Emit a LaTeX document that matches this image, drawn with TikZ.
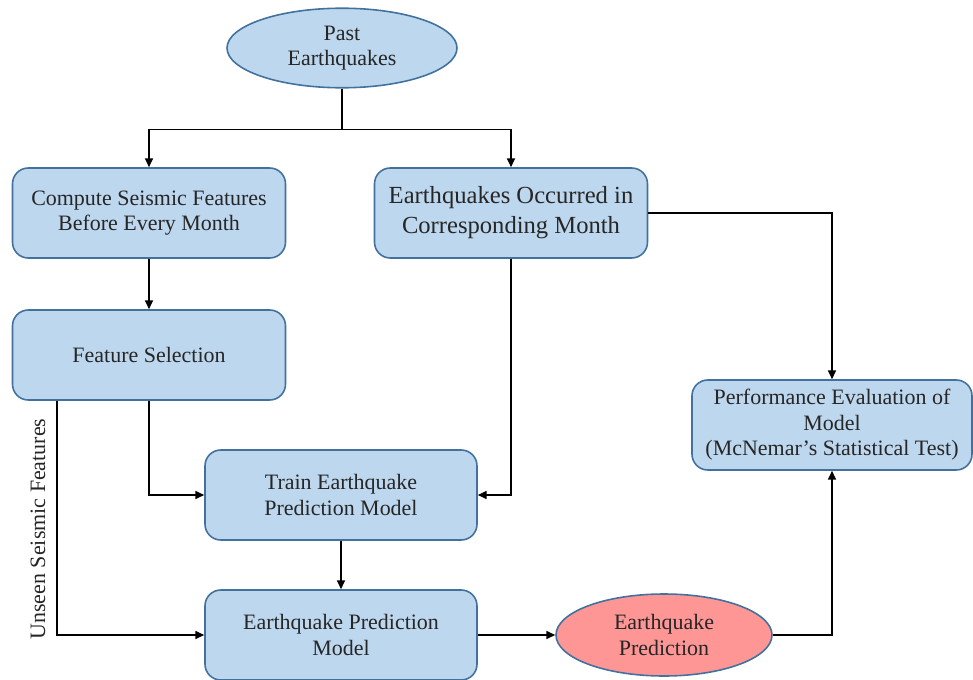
\documentclass[tikz,border=0pt]{standalone}
\usepackage{fontspec}
\setmainfont{Liberation Serif}
\usepackage{tikz}
\usetikzlibrary{shapes.geometric, arrows.meta, positioning}
\definecolor{boxfill}{RGB}{189,215,238}
\definecolor{boxline}{RGB}{65,113,156}
\definecolor{predfill}{RGB}{255,150,150}
\tikzstyle{arrow}=[-{Triangle[length=5pt,width=4.5pt]}, line width=0.9pt, color=black]
\tikzstyle{stepbox}=[draw=boxline, line width=0.9pt, fill=boxfill, rounded corners=9pt,
                     minimum width=5.46cm, minimum height=1.8cm, align=center,
                     font=\fontsize{12.5}{14.5}\selectfont, text=black!85]
\tikzstyle{oval}=[ellipse, draw=boxline, line width=0.9pt, fill=boxfill, align=center,
                  font=\fontsize{12.5}{14.5}\selectfont, text=black!85]

\begin{document}
\begin{tikzpicture}
  \useasboundingbox (0,0) rectangle (19.46,-13.6);

  % Nodes
  \node[oval, minimum width=4.6cm, minimum height=1.56cm] (past) at (6.84,-0.96) {Past\\Earthquakes};
  \node[stepbox] (compute) at (2.98,-4.26) {Compute Seismic Features\\Before Every Month};
  \node[stepbox, font=\fontsize{14}{17}\selectfont] (occur) at (10.22,-4.26) {Earthquakes Occurred in\\Corresponding Month};
  \node[stepbox] (featsel) at (2.98,-7.1) {Feature Selection};
  \node[stepbox, minimum width=5.44cm] (train) at (6.82,-9.9) {Train Earthquake\\Prediction Model};
  \node[stepbox, minimum width=5.6cm] (perf) at (16.64,-8.5) {Performance Evaluation of\\Model\\(McNemar's Statistical Test)};
  \node[stepbox, minimum width=5.44cm] (epm) at (6.82,-12.7) {Earthquake Prediction\\Model};
  \node[oval, fill=predfill, minimum width=4.32cm, minimum height=1.64cm] (pred) at (13.28,-12.7) {Earthquake\\Prediction};

  % Connectors
  \draw[line width=0.9pt] (past.south) -- ++(0,-0.82) coordinate (split);
  \draw[arrow] (split) -| (compute.north);
  \draw[arrow] (split) -| (occur.north);
  \draw[arrow] (compute) -- (featsel);
  \draw[arrow] (featsel.south) |- (train.west);
  \draw[arrow] ([xshift=0.9cm]featsel.south west) coordinate (unseen) |- (epm.west);
  \node[rotate=90, font=\fontsize{12.5}{14.5}\selectfont, text=black!85] (unseenlbl) at (0.76,-10.58) {Unseen Seismic Features};
  \draw[arrow] (occur.south) |- (train.east);
  \draw[arrow] (occur.east) -| (perf.north);
  \draw[arrow] (train) -- (epm);
  \draw[arrow] (epm) -- (pred);
  \draw[arrow] (pred.east) -| (perf.south);
\end{tikzpicture}
\end{document}
